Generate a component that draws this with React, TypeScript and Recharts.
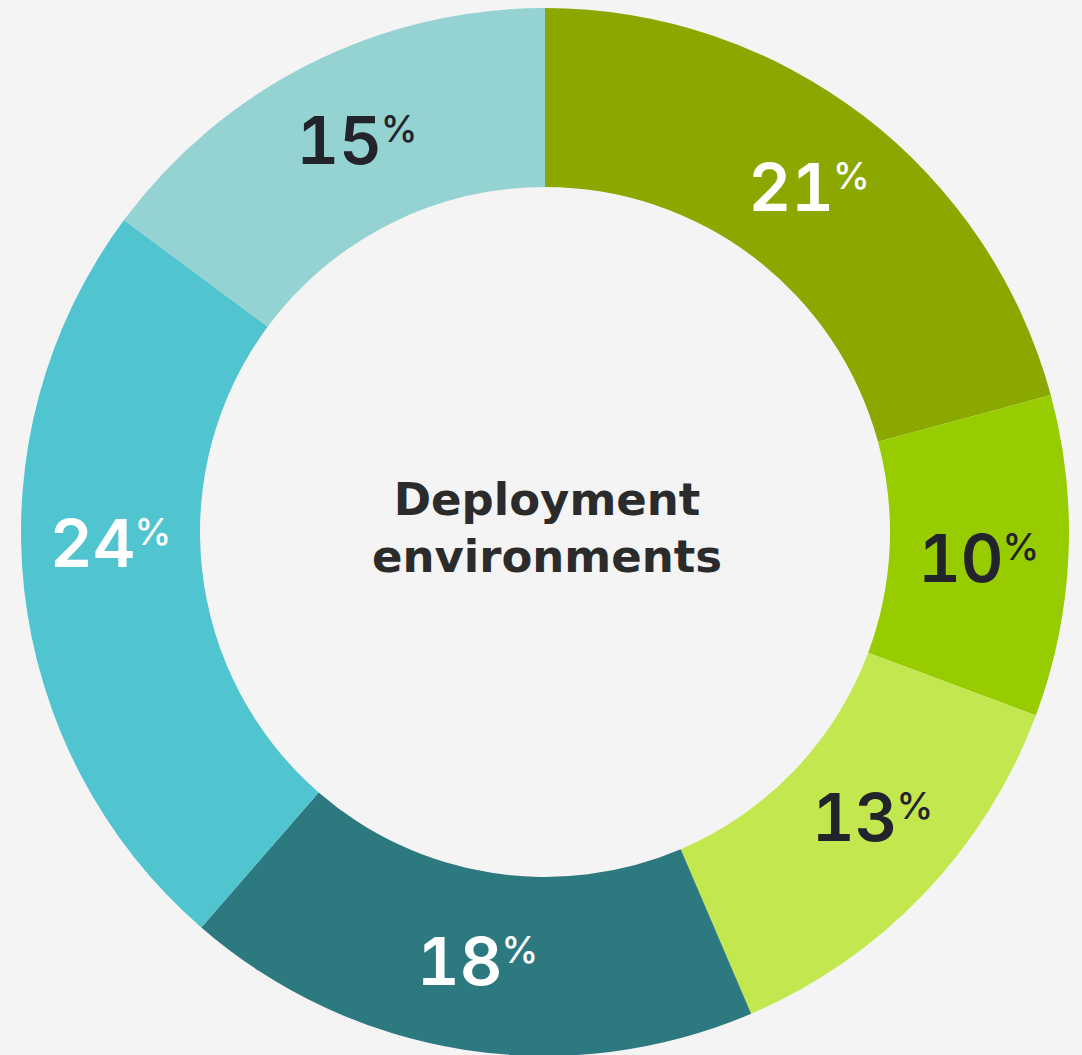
import React from "react";
import { PieChart, Pie, Cell } from "recharts";

const categories = ["A", "B", "C", "D", "E", "F"];
const shares = [21, 10, 13, 18, 24, 15];
const sliceColors = ["#8aa800", "#97cd00", "#c3e84f", "#2d7980", "#50c4cf", "#94d3d1"];
const labelColors = ["#ffffff", "#23232b", "#23232b", "#ffffff", "#ffffff", "#23232b"];
const titleLines = ["Deployment", "environments"];

const data = categories.map((c, i) => ({ name: c, value: shares[i] }));

const RAD = Math.PI / 180;
const FONT = "Inter, 'Noto Sans', sans-serif";
const TITLE_FONT = "'DejaVu Sans', Inter, sans-serif";
const CX = 545;
const CY = 532;

const labelAngleShift: Record<number, number> = { 1: -0.7, 2: 2.6, 4: -4.75, 5: -1.1 };

const renderLabel = (props: any) => {
  const { cx, cy, midAngle, innerRadius, outerRadius, index, value } = props;
  const r = (innerRadius + outerRadius) / 2;
  const a = (midAngle + (labelAngleShift[index] || 0)) * RAD;
  const x = cx + r * Math.cos(a);
  const y = cy - r * Math.sin(a);
  return (
    <text
      x={x}
      y={y + 24}
      textAnchor="middle"
      fill={labelColors[index]}
      fontFamily={FONT}
      fontWeight={600}
      fontSize={66}
      style={{ fontVariantNumeric: "tabular-nums" }}
    >
      <tspan>{value}</tspan>
      <tspan fontSize={37} fontWeight={500} dx={-1} dy={-22}>%</tspan>
    </text>
  );
};

export default function App() {
  return (
    <div
      style={{
        position: "fixed",
        left: 0,
        top: 0,
        width: 1082,
        height: 1055,
        background: "#f4f4f4",
        overflow: "hidden",
      }}
    >
      <PieChart width={1082} height={1055} margin={{ top: 0, right: 0, bottom: 0, left: 0 }}>
        <Pie
          data={data}
          dataKey="value"
          nameKey="name"
          cx={CX}
          cy={CY}
          innerRadius={345}
          outerRadius={524}
          startAngle={90}
          endAngle={-270}
          stroke="none"
          isAnimationActive={false}
          labelLine={false}
          label={renderLabel}
        >
          {data.map((d, i) => (
            <Cell key={d.name} fill={sliceColors[i]} />
          ))}
        </Pie>
      </PieChart>
      <svg
        width={1082}
        height={1055}
        style={{ position: "absolute", left: 0, top: 0, pointerEvents: "none" }}
      >
        <text
          textAnchor="middle"
          fill="#2b2b2b"
          fontFamily={TITLE_FONT}
          fontWeight={700}
          fontSize={45}
        >
          <tspan x={CX + 2} y={515}>{titleLines[0]}</tspan>
          <tspan x={CX + 2} y={572}>{titleLines[1]}</tspan>
        </text>
      </svg>
    </div>
  );
}
